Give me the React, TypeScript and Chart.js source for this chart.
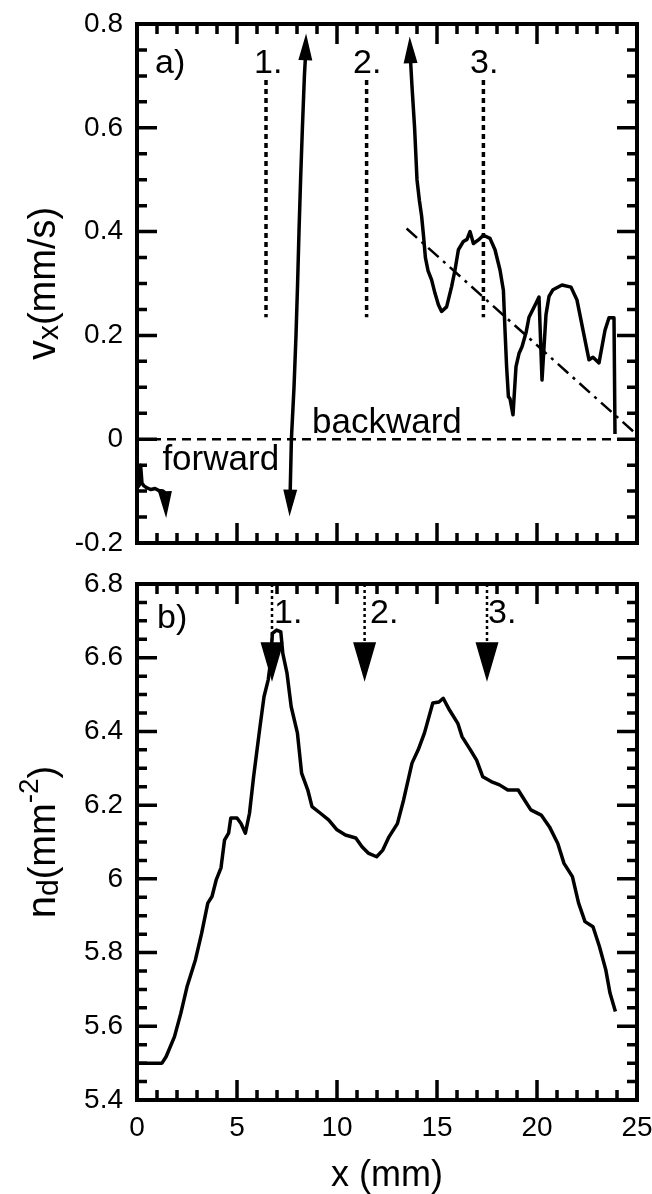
import React, { useEffect, useRef } from 'react';
import { Chart, registerables } from 'chart.js';
Chart.register(...registerables);

const FONT = '"Liberation Sans", Arial, Helvetica, sans-serif';

// ---------- Panel a) : v_x (mm/s) ----------
const xTicks = [0, 5, 10, 15, 20, 25];
const xTickLabels = ['0', '5', '10', '15', '20', '25'];
const yTicksA = [-0.2, 0, 0.2, 0.4, 0.6, 0.8];
const yTickLabelsA = ['-0.2', '0', '0.2', '0.4', '0.6', '0.8'];

// forward segment near x = 0
const fwdX = [0.05, 0.12, 0.18, 0.25, 0.35, 0.5, 0.7, 0.9, 1.1, 1.3, 1.4];
const fwdY = [-0.092, -0.088, -0.05, -0.085, -0.09, -0.094, -0.097, -0.095, -0.099, -0.1, -0.103];
// steep jump around x = 8
const jumpX = [7.66, 7.72, 7.85, 7.95, 8.03, 8.1, 8.18, 8.27, 8.37, 8.42];
const jumpY = [-0.1, 0, 0.1, 0.2, 0.3, 0.4, 0.5, 0.6, 0.7, 0.735];
// backward segment
const backX = [13.67, 13.75, 13.88, 14.0, 14.12, 14.23, 14.33, 14.42, 14.55, 14.73, 14.9, 15.07, 15.23, 15.48, 15.73, 15.9, 16.07, 16.32, 16.5, 16.65, 16.82, 17.07, 17.32, 17.65, 17.9, 18.15, 18.32, 18.4, 18.48, 18.57, 18.65, 18.8, 18.95, 19.1, 19.25, 19.45, 19.6, 19.9, 20.1, 20.25, 20.45, 20.6, 20.8, 21.25, 21.7, 22.0, 22.3, 22.6, 22.8, 23.1, 23.4, 23.6, 23.85, 23.9];
const backY = [0.735, 0.68, 0.6, 0.5, 0.46, 0.43, 0.39, 0.35, 0.325, 0.307, 0.281, 0.259, 0.246, 0.255, 0.294, 0.326, 0.365, 0.381, 0.385, 0.4, 0.377, 0.384, 0.393, 0.387, 0.365, 0.326, 0.287, 0.21, 0.14, 0.082, 0.078, 0.047, 0.14, 0.165, 0.178, 0.205, 0.235, 0.258, 0.274, 0.114, 0.24, 0.275, 0.288, 0.297, 0.293, 0.268, 0.21, 0.153, 0.158, 0.147, 0.21, 0.234, 0.234, 0.01];
// dash-dot guide line
const fitX = [13.48, 24.9];
const fitY = [0.406, 0.012];
// zero line
const zeroX = [0, 25];
const zeroY = [0, 0];
// dotted markers 1., 2., 3.
const markXA = [6.45, 11.48, 17.32];
const markTopA = 0.692;
const markBottomA = 0.235;
const markLabels = ['1.', '2.', '3.'];
const markLabelXA = [5.85, 10.8, 16.65];
const markLabelYA = 0.706;
// arrow heads (tip and the point they come from)
const arrowTipXA = [1.45, 7.63, 8.45, 13.64];
const arrowTipYA = [-0.146, -0.143, 0.776, 0.77];
const arrowFromXA = [1.4, 7.66, 8.42, 13.67];
const arrowFromYA = [-0.103, -0.1, 0.735, 0.735];

// ---------- Panel b) : n_d (mm^-2) ----------
const yTicksB = [5.4, 5.6, 5.8, 6.0, 6.2, 6.4, 6.6, 6.8];
const yTickLabelsB = ['5.4', '5.6', '5.8', '6', '6.2', '6.4', '6.6', '6.8'];
const ndX = [0, 1.25, 1.46, 1.875, 2.19, 2.5, 2.92, 3.23, 3.54, 3.75, 3.96, 4.2, 4.375, 4.58, 4.69, 5.0, 5.2, 5.42, 5.625, 5.83, 6.15, 6.35, 6.56, 6.67, 6.77, 6.98, 7.19, 7.29, 7.5, 7.71, 8.02, 8.23, 8.54, 8.75, 9.17, 9.58, 10.0, 10.42, 10.94, 11.25, 11.56, 11.98, 12.29, 12.6, 13.02, 13.33, 13.75, 14.06, 14.375, 14.79, 15.1, 15.31, 15.625, 16.04, 16.25, 16.67, 16.98, 17.29, 17.71, 18.125, 18.54, 19.06, 19.375, 19.69, 20.21, 20.625, 21.04, 21.35, 21.77, 22.08, 22.4, 22.8, 23.125, 23.44, 23.65, 23.92];
const ndY = [5.5, 5.5, 5.518, 5.572, 5.635, 5.707, 5.78, 5.852, 5.934, 5.952, 5.997, 6.03, 6.105, 6.124, 6.165, 6.165, 6.15, 6.124, 6.178, 6.277, 6.413, 6.494, 6.54, 6.585, 6.666, 6.675, 6.67, 6.612, 6.558, 6.467, 6.396, 6.287, 6.241, 6.196, 6.178, 6.16, 6.133, 6.119, 6.111, 6.087, 6.07, 6.06, 6.078, 6.114, 6.15, 6.214, 6.314, 6.35, 6.396, 6.477, 6.48, 6.49, 6.458, 6.422, 6.386, 6.35, 6.322, 6.277, 6.264, 6.255, 6.241, 6.241, 6.214, 6.187, 6.173, 6.141, 6.096, 6.042, 6.006, 5.934, 5.884, 5.87, 5.816, 5.753, 5.69, 5.64];
const markXB = [6.75, 11.38, 17.5];
const markTopB = 6.8;
const markBaseB = 6.64;
const markTipB = 6.542;
const markLabelXB = [6.85, 11.65, 17.55];
const markLabelYB = 6.694;

const pts = (xs: number[], ys: number[]) => xs.map((x, i) => ({ x, y: ys[i] }));

const lineDs = (data: any[], width: number, dash: number[] = []) => ({
  data,
  showLine: true,
  borderColor: '#000',
  backgroundColor: '#000',
  borderWidth: width,
  borderDash: dash,
  pointRadius: 0,
  pointHoverRadius: 0,
  fill: false,
  tension: 0,
  borderJoinStyle: 'round' as const,
});

function frameTicksPlugin(yMin: number, yMinor: number, yCount: number) {
  return {
    id: 'frameTicks',
    afterDatasetsDraw(chart: any) {
      const { ctx, chartArea: a, scales } = chart;
      const xs = scales.x;
      const ys = scales.y;
      ctx.save();
      ctx.strokeStyle = '#000';
      ctx.lineWidth = 3.5;
      ctx.lineCap = 'butt';
      ctx.beginPath();
      for (let k = 1; k < 25; k++) {
        const px = xs.getPixelForValue(k);
        const len = k % 5 === 0 ? 20 : 10;
        ctx.moveTo(px, a.bottom);
        ctx.lineTo(px, a.bottom - len);
        ctx.moveTo(px, a.top);
        ctx.lineTo(px, a.top + len);
      }
      for (let k = 1; k < yCount; k++) {
        const py = ys.getPixelForValue(yMin + k * yMinor);
        const len = k % 4 === 0 ? 20 : 10;
        ctx.moveTo(a.left, py);
        ctx.lineTo(a.left + len, py);
        ctx.moveTo(a.right, py);
        ctx.lineTo(a.right - len, py);
      }
      ctx.stroke();
      ctx.lineWidth = 4;
      ctx.strokeRect(a.left, a.top, a.right - a.left, a.bottom - a.top);
      ctx.restore();
    },
  };
}

type Part = { t: string; size: number; dy: number };
function yTitlePlugin(parts: Part[], baseX: number) {
  return {
    id: 'yTitle',
    afterDraw(chart: any) {
      const { ctx, chartArea: a } = chart;
      const cy = (a.top + a.bottom) / 2;
      ctx.save();
      ctx.fillStyle = '#000';
      ctx.textBaseline = 'alphabetic';
      ctx.textAlign = 'left';
      let total = 0;
      const widths = parts.map((p) => {
        ctx.font = `${p.size}px ${FONT}`;
        const w = ctx.measureText(p.t).width;
        total += w;
        return w;
      });
      ctx.translate(baseX, cy);
      ctx.rotate(-Math.PI / 2);
      let x = -total / 2;
      parts.forEach((p, i) => {
        ctx.font = `${p.size}px ${FONT}`;
        ctx.fillText(p.t, x, p.dy);
        x += widths[i];
      });
      ctx.restore();
    },
  };
}

type Txt = { t: string; x: number; y: number; size: number };
function textPlugin(items: Txt[]) {
  return {
    id: 'texts',
    afterDraw(chart: any) {
      const { ctx, scales } = chart;
      ctx.save();
      ctx.fillStyle = '#000';
      ctx.textBaseline = 'alphabetic';
      ctx.textAlign = 'left';
      items.forEach((it) => {
        ctx.font = `${it.size}px ${FONT}`;
        ctx.fillText(it.t, scales.x.getPixelForValue(it.x), scales.y.getPixelForValue(it.y));
      });
      ctx.restore();
    },
  };
}

function arrowPlugin(tipX: number[], tipY: number[], fromX: number[], fromY: number[], len: number, hw: number) {
  return {
    id: 'arrows',
    afterDatasetsDraw(chart: any) {
      const { ctx, scales } = chart;
      ctx.save();
      ctx.fillStyle = '#000';
      ctx.strokeStyle = '#000';
      ctx.lineWidth = 1.5;
      tipX.forEach((tx, i) => {
        const px = scales.x.getPixelForValue(tx);
        const py = scales.y.getPixelForValue(tipY[i]);
        const fx = scales.x.getPixelForValue(fromX[i]);
        const fy = scales.y.getPixelForValue(fromY[i]);
        let dx = px - fx;
        let dy = py - fy;
        const d = Math.hypot(dx, dy) || 1;
        dx /= d;
        dy /= d;
        const bx = px - dx * len;
        const by = py - dy * len;
        const nx = -dy * hw;
        const ny = dx * hw;
        ctx.beginPath();
        ctx.moveTo(px, py);
        ctx.lineTo(bx + nx, by + ny);
        ctx.lineTo(bx - nx, by - ny);
        ctx.closePath();
        ctx.fill();
        ctx.stroke();
      });
      ctx.restore();
    },
  };
}

const tickFont = { family: FONT, size: 28 };

function yScale(min: number, max: number, ticks: number[], labels: string[]) {
  return {
    type: 'linear' as const,
    min,
    max,
    grid: { display: false, drawTicks: false },
    border: { display: false },
    afterBuildTicks: (s: any) => {
      s.ticks = ticks.map((v) => ({ value: v }));
    },
    afterFit: (s: any) => {
      s.width = 137;
      s.paddingTop = 0;
      s.paddingBottom = 0;
    },
    ticks: {
      font: tickFont,
      color: '#000',
      padding: 14,
      callback: (_v: any, i: number) => labels[i],
    },
  };
}

function configA(): any {
  return {
    type: 'scatter',
    data: {
      datasets: [
        lineDs(pts(fwdX, fwdY), 3.5),
        lineDs(pts(jumpX, jumpY), 3.5),
        lineDs(pts(backX, backY), 3.5),
        lineDs(pts(fitX, fitY), 2.5, [14, 6, 3, 6]),
        lineDs(pts(zeroX, zeroY), 2.5, [9, 6]),
        ...markXA.map((mx) => lineDs(pts([mx, mx], [markTopA, markBottomA]), 3.5, [5, 4])),
      ],
    },
    options: {
      responsive: false,
      animation: false,
      devicePixelRatio: 1,
      layout: { padding: { top: 24, right: 15, bottom: 17, left: 0 } },
      plugins: { legend: { display: false }, tooltip: { enabled: false } },
      scales: {
        x: { type: 'linear', min: 0, max: 25, display: false },
        y: yScale(-0.2, 0.8, yTicksA, yTickLabelsA),
      },
    },
    plugins: [
      arrowPlugin(arrowTipXA, arrowTipYA, arrowFromXA, arrowFromYA, 23, 6),
      frameTicksPlugin(-0.2, 0.05, 20),
      yTitlePlugin(
        [
          { t: 'v', size: 40, dy: 0 },
          { t: 'x', size: 30, dy: 3 },
          { t: '(mm/s)', size: 38, dy: 0 },
        ],
        55
      ),
      textPlugin([
        { t: 'a)', x: 0.9, y: 0.705, size: 34 },
        ...markLabels.map((t, i) => ({ t, x: markLabelXA[i], y: markLabelYA, size: 34 })),
        { t: 'backward', x: 8.75, y: 0.012, size: 35 },
        { t: 'forward', x: 1.27, y: -0.059, size: 35 },
      ]),
    ],
  };
}

function configB(): any {
  return {
    type: 'scatter',
    data: {
      datasets: [
        lineDs(pts(ndX, ndY), 3.5),
        ...markXB.map((mx) => lineDs(pts([mx, mx], [markTopB, markBaseB]), 2.5, [3, 3])),
      ],
    },
    options: {
      responsive: false,
      animation: false,
      devicePixelRatio: 1,
      layout: { padding: { top: 24, right: 15, bottom: 0, left: 0 } },
      plugins: { legend: { display: false }, tooltip: { enabled: false } },
      scales: {
        x: {
          type: 'linear',
          min: 0,
          max: 25,
          grid: { display: false, drawTicks: false },
          border: { display: false },
          afterBuildTicks: (s: any) => {
            s.ticks = xTicks.map((v) => ({ value: v }));
          },
          afterFit: (s: any) => {
            s.height = 94;
            s.paddingLeft = 0;
            s.paddingRight = 0;
          },
          ticks: {
            font: tickFont,
            color: '#000',
            padding: 11,
            maxRotation: 0,
            callback: (_v: any, i: number) => xTickLabels[i],
          },
          title: {
            display: true,
            text: 'x (mm)',
            color: '#000',
            font: { family: FONT, size: 36, lineHeight: 1 },
            padding: { top: 0, bottom: 0 },
          },
        },
        y: yScale(5.4, 6.8, yTicksB, yTickLabelsB),
      },
    },
    plugins: [
      arrowPlugin(markXB, markXB.map(() => markTipB), markXB, markXB.map(() => markBaseB), 36, 10.5),
      frameTicksPlugin(5.4, 0.05, 28),
      yTitlePlugin(
        [
          { t: 'n', size: 40, dy: 0 },
          { t: 'd', size: 30, dy: 3 },
          { t: '(mm', size: 38, dy: 0 },
          { t: '-2', size: 28, dy: -17 },
          { t: ')', size: 38, dy: 0 },
        ],
        55
      ),
      textPlugin([
        { t: 'b)', x: 1.0, y: 6.68, size: 34 },
        ...markLabels.map((t, i) => ({ t, x: markLabelXB[i], y: markLabelYB, size: 34 })),
      ]),
    ],
  };
}

export default function App() {
  const refA = useRef<HTMLCanvasElement>(null);
  const refB = useRef<HTMLCanvasElement>(null);
  useEffect(() => {
    const a = new Chart(refA.current as HTMLCanvasElement, configA());
    const b = new Chart(refB.current as HTMLCanvasElement, configB());
    return () => {
      a.destroy();
      b.destroy();
    };
  }, []);
  return (
    <div style={{ position: 'absolute', left: 0, top: 0, width: 652, height: 1194, background: '#fff' }}>
      <canvas ref={refA} width={652} height={560} style={{ position: 'absolute', left: 0, top: 0 }} />
      <canvas ref={refB} width={652} height={634} style={{ position: 'absolute', left: 0, top: 560 }} />
    </div>
  );
}
